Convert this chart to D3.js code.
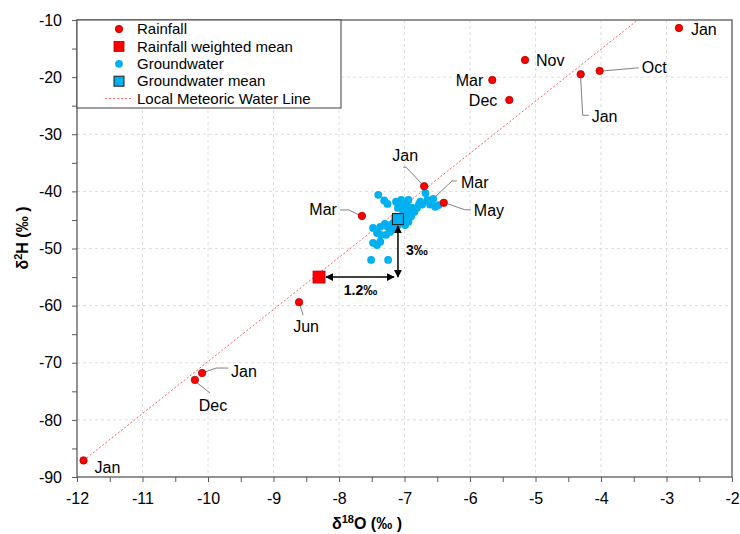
<!DOCTYPE html>
<html>
<head>
<meta charset="utf-8">
<script src="https://cdnjs.cloudflare.com/ajax/libs/d3/7.8.5/d3.min.js"></script>
<style>
  body { margin: 0; background: #fff; }
  svg { font-family: Arial, "Liberation Sans", sans-serif; }
</style>
</head>
<body>
<svg class="chart" width="740" height="534"></svg>
<script>

// rainfall samples (month, d18O, d2H)
let rainMonths = ["Jan", "Dec", "Jan", "Jun", "Mar", "Jan", "Mar", "May", "Dec", "Mar", "Nov", "Jan", "Oct", "Jan"];
let rainD18O = [-11.9, -10.2, -10.09, -8.61, -7.65, -6.70, -6.58, -6.40, -5.40, -5.66, -5.16, -4.31, -4.02, -2.81];
let rainD2H = [-87.1, -73.0, -71.8, -59.4, -44.3, -39.1, -41.5, -42.0, -24.0, -20.5, -17.0, -19.5, -18.9, -11.4];

// groundwater samples
let gwD18O = [-7.40, -7.31, -7.26, -7.13, -7.05, -6.99, -6.94, -6.94, -6.88, -6.81,
              -6.73, -6.65, -6.61, -6.56, -6.53, -6.48, -6.68, -7.10, -7.02, -6.94,
              -6.90, -6.94, -6.99, -7.10, -7.17, -7.22, -7.30, -7.37, -7.48, -7.14,
              -6.85, -7.42, -7.36, -7.28, -7.22, -7.26, -7.48, -7.42, -7.37, -7.51,
              -7.25, -6.91, -6.88, -6.76, -6.59, -6.78, -6.97, -7.07, -7.19, -7.04];
let gwD2H = [-40.6, -41.6, -42.2, -41.8, -41.5, -42.2, -41.5, -42.7, -42.9, -42.9,
             -42.3, -41.5, -42.3, -41.3, -42.7, -42.4, -40.3, -42.9, -43.6, -43.7,
             -44.4, -45.3, -45.9, -45.9, -45.5, -45.9, -45.7, -46.2, -46.4, -44.6,
             -43.6, -47.3, -47.6, -47.6, -47.1, -46.2, -49.0, -49.4, -48.8, -52.0,
             -52.0, -44.1, -43.2, -41.8, -41.8, -42.3, -44.8, -45.2, -46.6, -42.5];

// means
let rainMeanD18O = -8.305, rainMeanD2H = -55.0;
let gwMeanD18O = -7.10, gwMeanD2H = -44.85;

// local meteoric water line end points
let lmwlD18O = [-11.9, -3.44];
let lmwlD2H = [-87.1, -10];

// axes
let xTicks = [-12, -11, -10, -9, -8, -7, -6, -5, -4, -3, -2];
let yTicks = [-90, -80, -70, -60, -50, -40, -30, -20, -10];

// label placement for each rainfall point: text offset, anchor, leader path (px offsets)
let rainLabelLayout = [
  { dx: 11, dy: 7, anchor: "start", leader: null },
  { dx: 18, dy: 26, anchor: "middle", leader: [[1, 2], [15, 13]] },
  { dx: 29, dy: -2, anchor: "start", leader: [[3, -1], [14, -5], [26, -5]] },
  { dx: 7, dy: 24, anchor: "middle", leader: [[1, 3], [4, 13]] },
  { dx: -25, dy: -7, anchor: "end", leader: [[-3, -1], [-13, -6], [-22, -6]] },
  { dx: -19, dy: -31, anchor: "middle", leader: [[-3, -3], [-18, -19], [-21, -19]] },
  { dx: 29, dy: -18, anchor: "start", leader: [[0, 0], [20, -19], [25, -19]] },
  { dx: 30, dy: 8, anchor: "start", leader: [[4, 1], [21, 7], [27, 7]] },
  { dx: -12, dy: 0, anchor: "end", leader: null },
  { dx: -9, dy: 0, anchor: "end", leader: null },
  { dx: 11, dy: 0, anchor: "start", leader: null },
  { dx: 11, dy: 42, anchor: "start", leader: [[0, 4], [2, 41], [8, 41]] },
  { dx: 42, dy: -3, anchor: "start", leader: [[4, 0], [39, -3]] },
  { dx: 12, dy: 1, anchor: "start", leader: null }
];

let drawChart = function() {
  let svg = d3.select("body").select(".chart");

  let margin = { top: 20, right: 8, bottom: 57, left: 77 };
  let plotWidth = 740 - margin.left - margin.right;
  let plotHeight = 534 - margin.top - margin.bottom;

  let x = d3.scaleLinear().domain([-12, -2]).range([0, plotWidth]);
  let y = d3.scaleLinear().domain([-90, -10]).range([plotHeight, 0]);

  let red = "#ff0000", darkRed = "#b00000", blue = "#00b0f0";

  let defs = svg.append("defs");
  defs.append("marker")
    .attr("id", "arrow")
    .attr("viewBox", "0 0 10 10")
    .attr("refX", 9).attr("refY", 5)
    .attr("markerWidth", 8).attr("markerHeight", 8)
    .attr("markerUnits", "userSpaceOnUse")
    .attr("orient", "auto-start-reverse")
    .append("path")
    .attr("d", "M0,0 L10,5 L0,10 z")
    .attr("fill", "#000");

  let plot = svg.append("g").attr("transform", translate(margin.left, margin.top));

  // gridlines
  plot.append("g").selectAll("line.vgrid")
    .data(xTicks.slice(1, -1))
    .join("line")
    .attr("x1", d => x(d)).attr("x2", d => x(d))
    .attr("y1", 0).attr("y2", plotHeight)
    .attr("stroke", "#dedede").attr("stroke-dasharray", "3,3");
  plot.append("g").selectAll("line.hgrid")
    .data(yTicks.slice(1, -1))
    .join("line")
    .attr("x1", 0).attr("x2", plotWidth)
    .attr("y1", d => y(d)).attr("y2", d => y(d))
    .attr("stroke", "#dedede").attr("stroke-dasharray", "3,3");

  // axes with minor ticks (plain hyphen for negatives, like the original)
  let xMinor = d3.range(-12, -1.9, 0.5);
  let yMinor = d3.range(-90, -9, 5);

  let xAxis = d3.axisBottom(x).tickValues(xMinor).tickSize(5).tickPadding(11)
    .tickFormat(d => Number.isInteger(d) ? String(d) : "");
  let yAxis = d3.axisLeft(y).tickValues(yMinor).tickSize(5).tickPadding(10)
    .tickFormat(d => d % 10 === 0 ? String(d) : "");

  let xGroup = plot.append("g").attr("transform", translate(0, plotHeight)).call(xAxis);
  let yGroup = plot.append("g").call(yAxis);
  [xGroup, yGroup].forEach(g => {
    g.select(".domain").remove();
    g.selectAll("line").attr("stroke", "#595959");
    g.selectAll("text").attr("fill", "#000").style("font-size", "16px")
      .style("font-family", "Arial, 'Liberation Sans', sans-serif");
  });

  plot.append("rect")
    .attr("width", plotWidth).attr("height", plotHeight)
    .attr("fill", "none").attr("stroke", "#595959").attr("stroke-width", 1.3);

  // LMWL
  plot.append("line")
    .attr("x1", x(lmwlD18O[0])).attr("y1", y(lmwlD2H[0]))
    .attr("x2", x(lmwlD18O[1])).attr("y2", y(lmwlD2H[1]))
    .attr("stroke", "#ff4a4a").attr("stroke-width", 0.9).attr("stroke-dasharray", "2,2");

  // rainfall labels and leaders
  let rain = rainMonths.map((m, i) => ({ month: m, x: rainD18O[i], y: rainD2H[i], lay: rainLabelLayout[i] }));

  plot.append("g").selectAll("polyline")
    .data(rain.filter(d => d.lay.leader))
    .join("polyline")
    .attr("points", d => d.lay.leader.map(p => [x(d.x) + p[0], y(d.y) + p[1]].join(",")).join(" "))
    .attr("fill", "none").attr("stroke", "#7f7f7f").attr("stroke-width", 1);

  plot.append("g").selectAll("text")
    .data(rain)
    .join("text")
    .attr("x", d => x(d.x) + d.lay.dx)
    .attr("y", d => y(d.y) + d.lay.dy)
    .attr("dy", "0.35em")
    .attr("text-anchor", d => d.lay.anchor)
    .style("font-size", "16px")
    .text(d => d.month);

  // groundwater
  plot.append("g").selectAll("circle")
    .data(gwD18O.map((v, i) => [v, gwD2H[i]]))
    .join("circle")
    .attr("cx", d => x(d[0])).attr("cy", d => y(d[1]))
    .attr("r", 3.9).attr("fill", blue);

  // rainfall points (the Mar sample inside the groundwater cluster is hidden behind it)
  plot.append("g").selectAll("circle")
    .data(rain.filter(d => !(d.month === "Mar" && d.x > -7 && d.x < -6.5)))
    .join("circle")
    .attr("cx", d => x(d.x)).attr("cy", d => y(d.y))
    .attr("r", 3.7).attr("fill", red).attr("stroke", darkRed).attr("stroke-width", 0.8);

  // arrows between means
  plot.append("line")
    .attr("x1", x(rainMeanD18O) + 7).attr("y1", y(rainMeanD2H))
    .attr("x2", x(gwMeanD18O) - 4).attr("y2", y(rainMeanD2H))
    .attr("stroke", "#000").attr("stroke-width", 1.5)
    .attr("marker-start", "url(#arrow)").attr("marker-end", "url(#arrow)");
  plot.append("line")
    .attr("x1", x(gwMeanD18O)).attr("y1", y(rainMeanD2H))
    .attr("x2", x(gwMeanD18O)).attr("y2", y(gwMeanD2H) + 7)
    .attr("stroke", "#000").attr("stroke-width", 1.5)
    .attr("marker-start", "url(#arrow)").attr("marker-end", "url(#arrow)");

  plot.append("text")
    .attr("x", (x(rainMeanD18O) + x(gwMeanD18O)) / 2 + 2)
    .attr("y", y(rainMeanD2H) + 13).attr("dy", "0.35em")
    .attr("text-anchor", "middle")
    .style("font-size", "14px").style("font-weight", "bold")
    .text("1.2\u2030");
  plot.append("text")
    .attr("x", x(gwMeanD18O) + 8)
    .attr("y", (y(rainMeanD2H) + y(gwMeanD2H)) / 2 + 2).attr("dy", "0.35em")
    .style("font-size", "14px").style("font-weight", "bold")
    .text("3\u2030");

  // means
  plot.append("rect")
    .attr("x", x(rainMeanD18O) - 6).attr("y", y(rainMeanD2H) - 6)
    .attr("width", 12).attr("height", 12)
    .attr("fill", red).attr("stroke", darkRed).attr("stroke-width", 0.8);
  plot.append("rect")
    .attr("x", x(gwMeanD18O) - 5.5).attr("y", y(gwMeanD2H) - 5.5)
    .attr("width", 11).attr("height", 11)
    .attr("fill", blue).attr("stroke", "#1f1f1f").attr("stroke-width", 1);

  // legend
  let legend = svg.append("g").attr("transform", translate(margin.left, margin.top));
  legend.append("rect")
    .attr("width", 264).attr("height", 88)
    .attr("fill", "#fff").attr("stroke", "#404040").attr("stroke-width", 1);
  let items = ["Rainfall", "Rainfall weighted mean", "Groundwater", "Groundwater mean", "Local Meteoric Water Line"];
  let rowY = i => 9 + i * 17.4;
  legend.selectAll("text.leg")
    .data(items)
    .join("text")
    .attr("x", 60).attr("y", (d, i) => rowY(i)).attr("dy", "0.35em")
    .style("font-size", "15px")
    .text(d => d);
  legend.append("circle").attr("cx", 42).attr("cy", rowY(0)).attr("r", 3.7)
    .attr("fill", red).attr("stroke", darkRed).attr("stroke-width", 0.8);
  legend.append("rect").attr("x", 37).attr("y", rowY(1) - 5).attr("width", 10).attr("height", 10)
    .attr("fill", red).attr("stroke", darkRed).attr("stroke-width", 0.8);
  legend.append("circle").attr("cx", 42).attr("cy", rowY(2)).attr("r", 3.9).attr("fill", blue);
  legend.append("rect").attr("x", 37).attr("y", rowY(3) - 5).attr("width", 10).attr("height", 10)
    .attr("fill", blue).attr("stroke", "#1f1f1f").attr("stroke-width", 1);
  legend.append("line").attr("x1", 28).attr("x2", 56).attr("y1", rowY(4)).attr("y2", rowY(4))
    .attr("stroke", "#ff4a4a").attr("stroke-width", 0.9).attr("stroke-dasharray", "2,2");

  // axis titles
  let xTitle = svg.append("text")
    .attr("x", 367).attr("y", 529)
    .attr("text-anchor", "middle")
    .style("font-size", "16px").style("font-weight", "bold");
  xTitle.append("tspan").text("\u03b4");
  xTitle.append("tspan").attr("dy", -6).style("font-size", "11px").text("18");
  xTitle.append("tspan").attr("dy", 6).text("O (\u2030 )");

  let yTitle = svg.append("text")
    .attr("transform", "rotate(-90)")
    .attr("x", -238).attr("y", 28)
    .attr("text-anchor", "middle")
    .style("font-size", "16px").style("font-weight", "bold");
  yTitle.append("tspan").text("\u03b4");
  yTitle.append("tspan").attr("dy", -6).style("font-size", "11px").text("2");
  yTitle.append("tspan").attr("dy", 6).text("H (\u2030 )");
};

function translate(x, y) {
  return 'translate(' + x + ',' + y + ')';
}

drawChart();
</script>
</body>
</html>
